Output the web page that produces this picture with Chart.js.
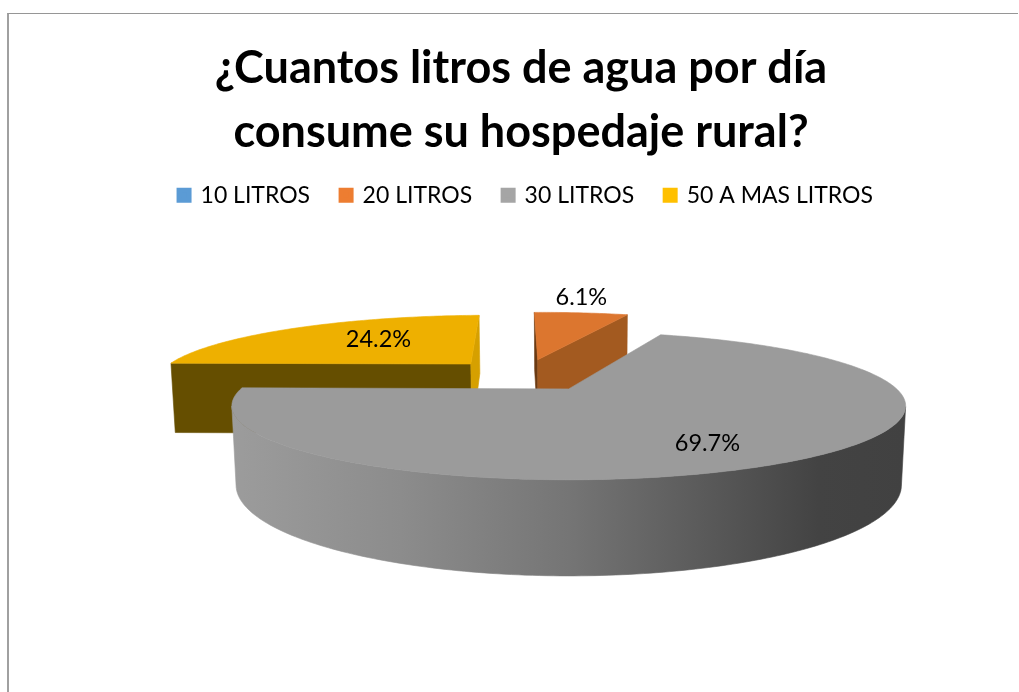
<!DOCTYPE html>
<html lang="es">
<head>
<meta charset="utf-8">
<title>Consumo de agua</title>
<script src="https://cdn.jsdelivr.net/npm/chart.js@4/dist/chart.umd.min.js"></script>
<style>
    html, body { margin: 0; background: #fff; overflow: hidden; }
    #wrap { position: relative; width: 1019px; height: 692px; }
    #frame { position: absolute; left: 7px; top: 13px; right: 1px; bottom: 0; border-left: 2px solid #a0a0a0; border-top: 1px solid #969696; }
    canvas { position: absolute; left: 0; top: 0; }
</style>
</head>
<body>
<div id="wrap">
    <div id="frame"></div>
    <canvas id="chart" width="1019" height="692"></canvas>
</div>
<script>
const titleLines = ['¿Cuantos litros de agua por día', 'consume su hospedaje rural?'];
const categories = ['10 LITROS', '20 LITROS', '30 LITROS', '50 A MAS LITROS'];
const shares = [0, 6.1, 69.7, 24.2];
const legendColors = ['#5b9bd5', '#ed7d31', '#a5a5a5', '#ffc000'];

// shaded faces, darker than the legend swatches like the original
const topColors = ['#5b9bd5', '#dc762f', '#9b9b9b', '#eeb000'];
const rimColors = ['#3d6a91', '#a35a20', '#666666', '#654e00'];
const startWallColors = ['#3d6a91', '#6b3a12', '#666666', '#654e00'];
const endWallColors = ['#3d6a91', '#a35a20', '#666666', '#d6a000'];

// where the label sits along each slice, radius and angle nudge in degrees
const labelRadius = [1, 1.42, 0.75, 0.59];
const labelNudge = [0, -2.5, 6, 7];

// camera for the tilted pie, fitted against the original
const camera = { cx: 568, scaleX: 328, y0: 389, y1: 19.3, k: 0.2297, depth: 81, shrink: 0.012 };
const pieCenter = { u: -0.1417, v: 0.2102 };
const explode = 0.2535;

function project(u, v, z) {
    const w = 1 + camera.k * v + camera.shrink * z;
    return {
        x: camera.cx + camera.scaleX * u / w,
        y: (camera.y0 + camera.y1 * v + camera.depth * z) / w,
    };
}

function polygon(ctx, points) {
    ctx.beginPath();
    points.forEach((p, i) => (i ? ctx.lineTo(p.x, p.y) : ctx.moveTo(p.x, p.y)));
    ctx.closePath();
}

function area(points) {
    let sum = 0;
    points.forEach((p, i) => {
        const q = points[(i + 1) % points.length];
        sum += p.x * q.y - q.x * p.y;
    });
    return sum / 2;
}

function fillFace(ctx, points, color) {
    polygon(ctx, points);
    ctx.fillStyle = color;
    ctx.strokeStyle = color;
    ctx.lineWidth = 0.6;
    ctx.fill();
    ctx.stroke();
}

function sliceGeometry(arc) {
    // chart.js angles start at +x and run clockwise, the disc has v pointing away
    const mid = (arc.startAngle + arc.endAngle) / 2;
    const apex = {
        u: pieCenter.u + explode * Math.cos(mid),
        v: pieCenter.v - explode * Math.sin(mid),
    };
    const rimPoints = [];
    const steps = Math.max(4, Math.round((arc.endAngle - arc.startAngle) * 60));
    for (let i = 0; i <= steps; i++) {
        const a = arc.startAngle + (arc.endAngle - arc.startAngle) * i / steps;
        rimPoints.push({ u: apex.u + Math.cos(a), v: apex.v - Math.sin(a) });
    }
    return { mid, apex, rimPoints };
}

function drawRim(ctx, rimPoints, color) {
    // one polygon for the part facing the viewer, separate quads leave seams
    const upper = [];
    const lower = [];
    for (let i = 0; i < rimPoints.length - 1; i++) {
        const a = rimPoints[i];
        const b = rimPoints[i + 1];
        const quad = [project(a.u, a.v, 0), project(b.u, b.v, 0), project(b.u, b.v, 1), project(a.u, a.v, 1)];
        if (area(quad) >= 0) continue;
        if (!upper.length) {
            upper.push(quad[0]);
            lower.push(quad[3]);
        }
        upper.push(quad[1]);
        lower.push(quad[2]);
    }
    if (upper.length) fillFace(ctx, upper.concat(lower.reverse()), color);
}

function drawSlice(ctx, arc, index) {
    const { apex, rimPoints } = sliceGeometry(arc);
    const first = rimPoints[0];
    const last = rimPoints[rimPoints.length - 1];

    let rimFill = rimColors[index];
    if (index === 2) {
        rimFill = ctx.createLinearGradient(232, 0, 906, 0);
        rimFill.addColorStop(0, '#9c9c9c');
        rimFill.addColorStop(0.25, '#8c8c8c');
        rimFill.addColorStop(0.5, '#757575');
        rimFill.addColorStop(0.7, '#5a5a5a');
        rimFill.addColorStop(0.87, '#434343');
        rimFill.addColorStop(1, '#414141');
    }
    drawRim(ctx, rimPoints, rimFill);

    const startWall = [project(apex.u, apex.v, 0), project(first.u, first.v, 0), project(first.u, first.v, 1), project(apex.u, apex.v, 1)];
    if (area(startWall) < 0) fillFace(ctx, startWall, startWallColors[index]);
    const endWall = [project(last.u, last.v, 0), project(apex.u, apex.v, 0), project(apex.u, apex.v, 1), project(last.u, last.v, 1)];
    if (area(endWall) < 0) fillFace(ctx, endWall, endWallColors[index]);

    const top = [project(apex.u, apex.v, 0)].concat(rimPoints.map((p) => project(p.u, p.v, 0)));
    fillFace(ctx, top, topColors[index]);
}

const tiltedPie = {
    id: 'tiltedPie',
    afterLayout(chart) {
        // legend sits a little right of the title in the original
        chart.legend.left += 10;
    },
    // the flat arcs are replaced, their angles still come from the library
    beforeDatasetDraw() {
        return false;
    },
    afterDatasetsDraw(chart) {
        const ctx = chart.ctx;
        const arcs = chart.getDatasetMeta(0).data;
        ctx.save();
        [1, 3, 2].forEach((i) => {
            if (arcs[i].circumference > 0) drawSlice(ctx, arcs[i], i);
        });
        ctx.fillStyle = '#000';
        ctx.font = '23.5px Lato, Carlito, sans-serif';
        ctx.textAlign = 'center';
        ctx.textBaseline = 'middle';
        arcs.forEach((arc, i) => {
            if (!shares[i]) return;
            const { mid, apex } = sliceGeometry(arc);
            const a = mid + labelNudge[i] * Math.PI / 180;
            const p = project(apex.u + labelRadius[i] * Math.cos(a), apex.v - labelRadius[i] * Math.sin(a), 0);
            ctx.fillText(`${shares[i].toFixed(1)}%`, p.x, p.y);
        });
        ctx.restore();
    },
};

new Chart(document.getElementById('chart'), {
    type: 'pie',
    data: {
        labels: categories,
        // borderWidth only thickens the legend swatch, so the text sits closer to it
        datasets: [{ data: shares, backgroundColor: legendColors, borderColor: legendColors, borderWidth: 5 }],
    },
    options: {
        responsive: false,
        animation: false,
        rotation: -2,
        layout: { padding: { left: 23, top: 36 } },
        plugins: {
            tooltip: { enabled: false },
            title: {
                display: true,
                text: titleLines,
                color: '#000',
                font: { family: 'Lato, Carlito, sans-serif', size: 45, weight: 'bold', lineHeight: 1.43 },
                padding: { top: 0, bottom: -12 },
            },
            legend: {
                position: 'top',
                labels: {
                    color: '#000',
                    font: { family: 'Lato, Carlito, sans-serif', size: 23 },
                    boxWidth: 10,
                    boxHeight: 10,
                    padding: 31,
                },
            },
        },
    },
    plugins: [tiltedPie],
});
</script>
</body>
</html>
